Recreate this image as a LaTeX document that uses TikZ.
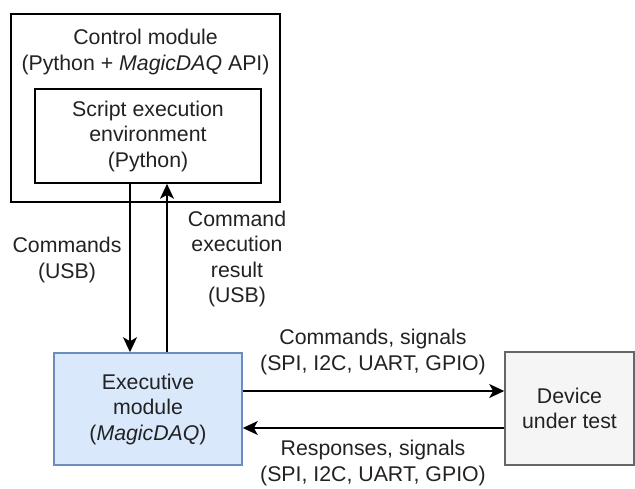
\documentclass[tikz,border=0pt]{standalone}
\usepackage{fontspec}
\setmainfont{Liberation Sans}
\usepackage{tikz}
\usetikzlibrary{calc}
\usetikzlibrary{arrows.meta}

\definecolor{execfill}{HTML}{DAE8FC}
\definecolor{execline}{HTML}{6C8EBF}
\definecolor{dutfill}{HTML}{F5F5F5}
\definecolor{dutline}{HTML}{666666}
\definecolor{txt}{HTML}{222222}

\tikzset{
	block/.style={draw, line width=1.6pt, align=center, text=txt},
	lbl/.style={align=center, text=txt},
	sig/.style={line width=1.6pt, -{Stealth[length=15pt, width=14pt, inset=4pt]}}
}

\begin{document}
\begin{tikzpicture}[x=1pt, y=-1pt, font=\fontsize{21.3pt}{25.5pt}\selectfont]
		\useasboundingbox (0,0) rectangle (635,488);
		\node [block, minimum width=269pt, minimum height=188pt] (ctrl) at (145.5,108) {};
		\node [lbl] (ctrltxt) at (145.5,52) {Control module\\(Python + \textit{MagicDAQ} API)};
		\node [block, fill=white, minimum width=226pt, minimum height=94pt] (env) at (148,136) {Script execution\\environment\\(Python)};
		\node [block, draw=execline, fill=execfill, minimum width=188pt, minimum height=112pt] (exec) at (148,409) {Executive\\module\\(\textit{MagicDAQ})};
		\node [block, draw=dutline, fill=dutfill, minimum width=129pt, minimum height=113pt] (dut) at (569.5,408.5) {Device\\under test};
		% USB link
		\draw [sig] ([xshift=-18pt]env.south) -- ([xshift=-18pt]env.south |- exec.north);
		\draw [sig] ([xshift=19pt]exec.north) -- ([xshift=19pt]exec.north |- env.south);
		\node [lbl] (cmdusb) at (67,260) {Commands\\(USB)};
		\node [lbl] (resusb) at (237,259) {Command\\execution\\result\\(USB)};
		% bus to the device
		\draw [sig] ([yshift=18pt]exec.east) -- ([yshift=18pt]exec.east -| dut.west);
		\draw [sig] ([yshift=-19pt]exec.east -| dut.west) -- ([yshift=-19pt]exec.east);
		\node [lbl] (cmdbus) at (373,352) {Commands, signals\\(SPI, I2C, UART, GPIO)};
		\node [lbl] (resbus) at (373,463) {Responses, signals\\(SPI, I2C, UART, GPIO)};
	\end{tikzpicture}
\end{document}
